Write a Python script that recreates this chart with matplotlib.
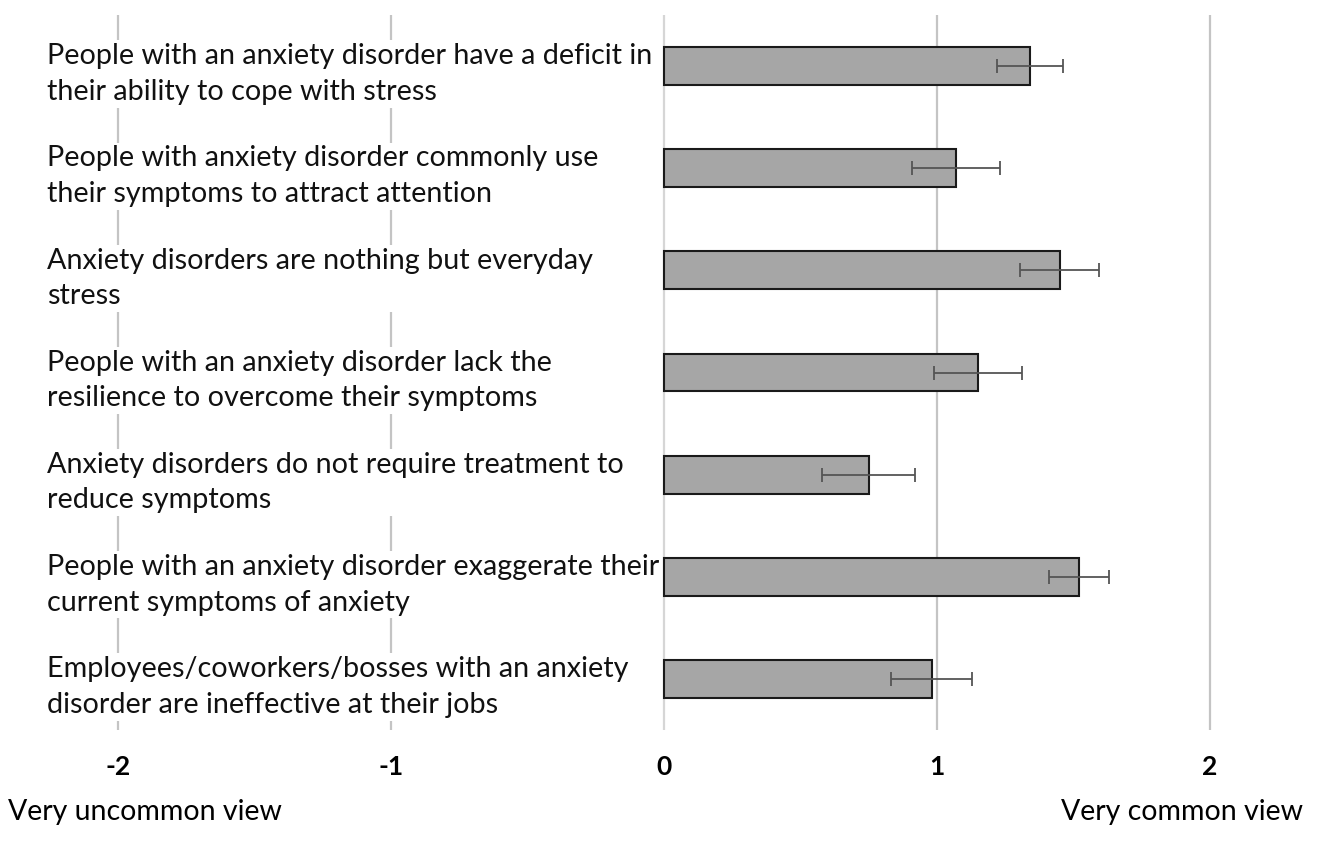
import matplotlib
matplotlib.use("Agg")
import matplotlib.pyplot as plt
from matplotlib.transforms import blended_transform_factory, offset_copy

plt.rcParams['font.family'] = ['Lato', 'DejaVu Sans']

# statements, top to bottom
statements = [
    "People with an anxiety disorder have a deficit in\ntheir ability to cope with stress",
    "People with anxiety disorder commonly use\ntheir symptoms to attract attention",
    "Anxiety disorders are nothing but everyday\nstress",
    "People with an anxiety disorder lack the\nresilience to overcome their symptoms",
    "Anxiety disorders do not require treatment to\nreduce symptoms",
    "People with an anxiety disorder exaggerate their\ncurrent symptoms of anxiety",
    "Employees/coworkers/bosses with an anxiety\ndisorder are ineffective at their jobs",
]
means = [1.34, 1.07, 1.45, 1.15, 0.75, 1.52, 0.98]
errors = [0.12, 0.16, 0.145, 0.16, 0.17, 0.11, 0.15]
tick_values = [-2, -1, 0, 1, 2]
tick_labels = ["-2", "-1", "0", "1", "2"]

fig = plt.figure(figsize=(13.19, 8.41), dpi=100)
ax = fig.add_axes([0, 1 - 730 / 841, 1, (730 - 15) / 841])

pos = list(range(len(statements)))

# gridlines
for v in tick_values:
    ax.axvline(v, color='#c4c4c4' if v != 0 else '#d6d6d6', linewidth=1.6, zorder=0)

ax.barh(pos, means, height=0.37, color='#a6a6a6', edgecolor='#1a1a1a', linewidth=1.5, zorder=2)
ax.errorbar(means, pos, xerr=errors, fmt='none', ecolor='#555555', elinewidth=1.3,
            capsize=5, capthick=1.3, zorder=3)

ax.set_xlim(-664 / 273, (1319 - 664) / 273)
ax.set_ylim(6.5, -0.5)

# statement labels on the left, sitting a little below the bar centre
trans = blended_transform_factory(fig.transFigure, ax.transData)
trans = offset_copy(trans, fig=fig, y=-8, units='dots')
for p, s in zip(pos, statements):
    ax.text(47 / 1319, p, s, transform=trans, ha='left', va='center', fontsize=20.7,
            color='#111111', linespacing=1.45, zorder=4,
            bbox=dict(facecolor='white', edgecolor='none', pad=2))

ax.set_xticks(tick_values)
ax.set_xticklabels(tick_labels, fontsize=19, fontweight='bold')
ax.tick_params(axis='x', length=0, pad=18)
ax.set_yticks([])
for sp in ax.spines.values():
    sp.set_visible(False)

fig.text(8 / 1319, 1 - 812 / 841, "Very uncommon view", ha='left', va='center', fontsize=20.5)
fig.text(1303 / 1319, 1 - 812 / 841, "Very common view", ha='right', va='center', fontsize=20.5)

fig.savefig("out.png", dpi=100)
